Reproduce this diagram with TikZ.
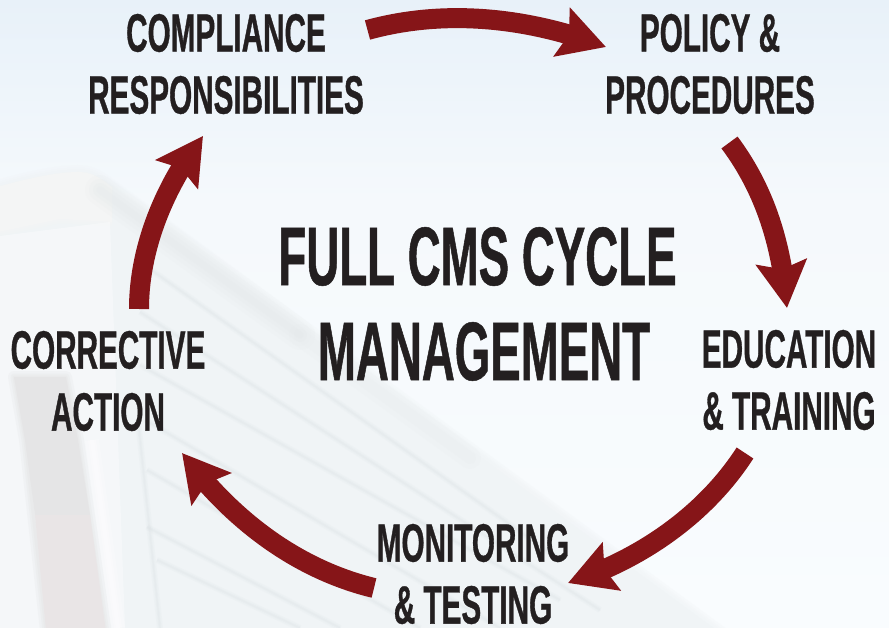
\documentclass[tikz,border=0pt]{standalone}
\usepackage{fontspec}
\setmainfont{Liberation Sans}[BoldFont={Liberation Sans Bold},BoldFeatures={FakeStretch=0.55,FakeBold=0.6}]
\usetikzlibrary{arrows.meta,bending}
\definecolor{arrowred}{HTML}{861518}
\definecolor{inktext}{HTML}{231F20}
\definecolor{skytop}{HTML}{E8F1F9}
\definecolor{skymid}{HTML}{F5F9FC}
\definecolor{skybot}{HTML}{F9FCFE}
\definecolor{bodyc}{HTML}{F0F4F6}
\definecolor{capc}{HTML}{F4F5F5}
\definecolor{bandc}{HTML}{E4E8EA}
\definecolor{stripc}{HTML}{E5E5E6}
\definecolor{stripd}{HTML}{E9E5E6}
\definecolor{ribc}{HTML}{D8DEE2}
\tikzset{
  x=1pt,y=-1pt,
  lbl/.style={text=inktext,align=center,font=\fontsize{54}{62}\selectfont\bfseries,inner sep=0pt},
  biglbl/.style={text=inktext,align=center,font=\fontsize{83}{95}\selectfont\bfseries,inner sep=0pt},
  cyc/.style={draw=arrowred,line width=20pt,-{Stealth[length=46pt,width=50pt,inset=7pt,flex=1]}},
  rib/.style={draw=ribc,opacity=.13},
}
\newcommand{\softrib}[4]{%
  \draw[rib,line width=6pt] (#1,#2) -- (#3,#4);
  \draw[rib,line width=3pt] (#1,#2) -- (#3,#4);
  \draw[rib,line width=1.2pt] (#1,#2) -- (#3,#4);}
\begin{document}
\begin{tikzpicture}
\useasboundingbox (0,0) rectangle (889,628);
\path[top color=skytop,bottom color=skymid,draw=none] (0,0) rectangle (889,200);
\path[top color=skymid,bottom color=skybot,draw=none] (0,200) rectangle (889,628);
\begin{scope}
\clip (0,0) rectangle (889,628);
% truck body with a soft edge
\def\truck{(-20,192) .. controls (20,180) and (55,172) .. (78,172) .. controls (92,172) and (100,178) .. (112,187) -- (730,640) -- (-20,640) -- cycle}
\foreach \w in {14,9,5}
  \draw[bodyc,line width=\w pt,opacity=.3,line join=round] \truck;
\fill[bodyc] \truck;
% corner cap
\foreach \w/\o in {8/.3,4/.4}
  \draw[capc,line width=\w pt,opacity=\o] (-20,236) -- (60,219) -- (112,222);
\fill[capc] (-20,192) .. controls (20,180) and (55,172) .. (78,172) .. controls (92,172) and (100,178) .. (112,187) -- (112,222) -- (60,219) -- (-20,236) -- cycle;
% band along the roof edge
\foreach \w/\o in {30/.12,22/.16,14/.2,7/.2}
  \draw[bandc,line width=\w pt,opacity=\o,line cap=round] (100,190) -- (300,335);
\foreach \w/\o in {22/.1,12/.12}
  \draw[bandc,line width=\w pt,opacity=\o,line cap=round] (300,335) -- (470,458);
% front column
\fill[white,opacity=.35] (0,236) -- (110,222) -- (125,628) -- (0,628) -- cycle;
\foreach \w/\o in {12/.25,7/.3,3/.35}{
  \draw[stripc,line width=\w pt,opacity=\o,line join=round] (14,377) -- (66,377) -- (78,440) -- (107,640) -- (47,640) -- (25,440) -- cycle;
}
\fill[stripc] (14,377) -- (66,377) -- (78,440) -- (90,515) -- (35,515) -- (25,440) -- cycle;
\fill[stripd] (35,515) -- (90,515) -- (107,640) -- (47,640) -- cycle;
\foreach \w/\o in {14/.2,8/.25,4/.3}
  \draw[white,line width=\w pt,opacity=\o] (92,440) -- (118,628);
% ribs
\softrib{140}{262}{560}{560}
\softrib{140}{312}{600}{610}
\softrib{140}{365}{560}{600}
\softrib{145}{420}{500}{628}
\softrib{147}{470}{420}{628}
\softrib{147}{527}{340}{628}
\softrib{157}{560}{300}{628}
\softrib{138}{420}{160}{628}
\end{scope}
% labels
\node[lbl] (comp) at (226,64) {COMPLIANCE\\RESPONSIBILITIES};
\node[lbl] (pol) at (710,64) {POLICY \&\\PROCEDURES};
\node[lbl] (edu) at (789,380) {EDUCATION\\\& TRAINING};
\node[lbl] (mon) at (473,574) {MONITORING\\\& TESTING};
\node[lbl] (cor) at (108,381) {CORRECTIVE\\ACTION};
\node[biglbl] (title) at (477.5,304) {FULL CMS CYCLE\\\hspace*{13pt}MANAGEMENT};
% connector ends
\coordinate (a1) at (367.5,30);  \coordinate (a2) at (606,47);
\coordinate (b1) at (729.5,142.5); \coordinate (b2) at (787,308);
\coordinate (c1) at (745,453);   \coordinate (c2) at (568,583);
\coordinate (d1) at (374,588);   \coordinate (d2) at (182,453);
\coordinate (e1) at (139,309);   \coordinate (e2) at (203,136);
\draw[cyc] (a1) .. controls (440,10) and (522,15) .. (a2);
\draw[cyc] (b1) .. controls (765,190) and (782,245) .. (b2);
\draw[cyc] (c1) .. controls (705,515) and (640,560) .. (c2);
\draw[cyc] (d1) .. controls (300,570) and (234,523) .. (d2);
\draw[cyc] (e1) .. controls (139,250) and (163,188) .. (e2);
\end{tikzpicture}
\end{document}
